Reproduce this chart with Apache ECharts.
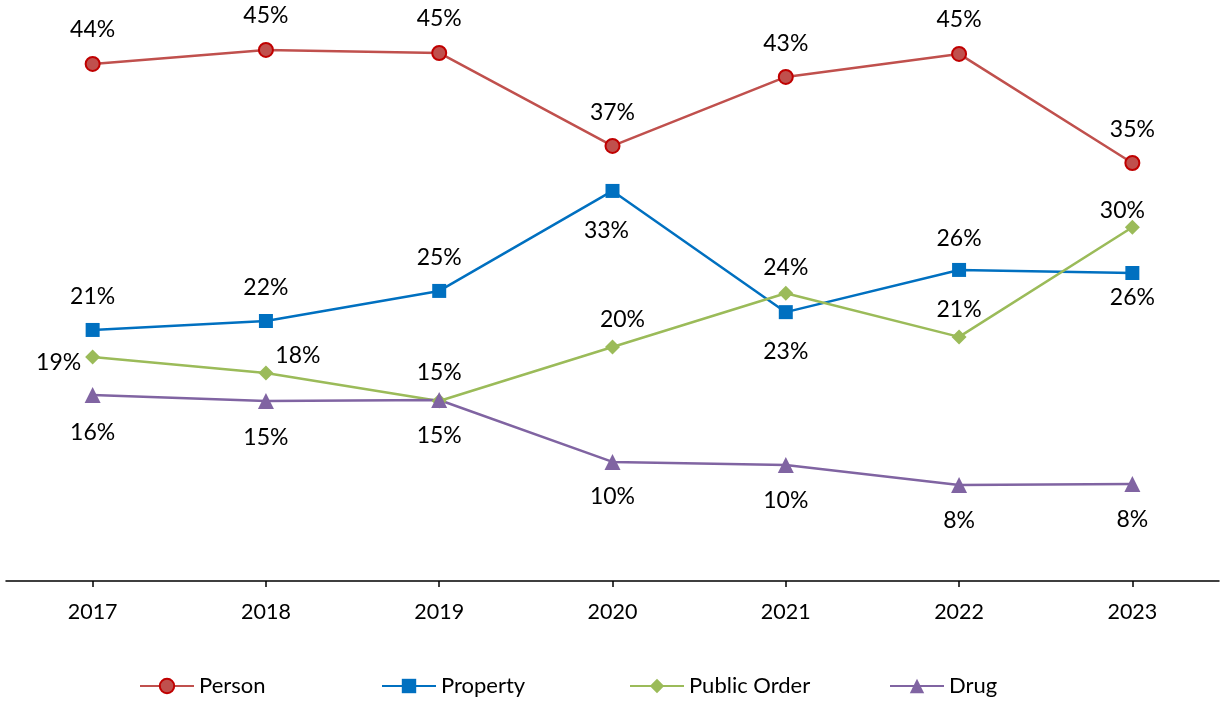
<!DOCTYPE html>
<html><head><meta charset="utf-8">
<script src="https://cdn.jsdelivr.net/npm/echarts@6/dist/echarts.min.js"></script>
<style>html,body{margin:0;padding:0;background:#fff}#c{width:1225px;height:708px}</style>
</head><body><div id="c"></div>
<script>
const categories = ['2017','2018','2019','2020','2021','2022','2023'];
const person = [43.85, 45.04, 44.78, 36.9, 42.75, 44.7, 35.45];
const property = [21.29, 22.05, 24.6, 33.08, 22.8, 26.38, 26.12];
const publicOrder = [19.0, 17.64, 15.27, 19.85, 24.4, 20.7, 30.0];
const drug = [15.78, 15.27, 15.35, 10.1, 9.84, 8.14, 8.23];

// label offsets (dx, dy) from point center, styling only
const offsets = {
  Person: [[0,-34],[0,-34],[0,-34],[0,-33],[0,-33],[0,-34],[0,-33]],
  Property: [[0,-33],[0,-33],[0,-33],[-6,40],[0,39],[0,-31],[0,25]],
  'Public Order': [[-34,6],[32,-17],[0,-28],[10,-27],[0,-26],[0,-27],[-10,-17]],
  Drug: [[0,38],[0,37],[0,36],[0,35],[0,36],[0,36],[0,36]]
};

const FONT = 'Lato';
function mk(name, values, color, symbol, size, borderColor) {
  return {
    name, type: 'line', data: values.map((v, i) => ({
      value: v,
      label: { offset: offsets[name][i] }
    })),
    symbol, symbolSize: size,
    lineStyle: { color, width: 2.5 },
    itemStyle: { color, borderColor: borderColor || color, borderWidth: borderColor ? 2 : 0 },
    label: {
      show: true, position: 'inside', color: '#000', fontFamily: FONT, fontSize: 23,
      formatter: p => Math.round(p.value) + '%'
    },
    z: 3
  };
}

const chart = echarts.init(document.getElementById('c'), null, { renderer: 'canvas' });
const legendBase = (name, left) => ({
  data: [name], left, top: 670, itemWidth: 54, itemHeight: 18, itemGap: 0,
  textStyle: { fontFamily: FONT, fontSize: 22, color: '#000' }
});
chart.setOption({
  animation: false,
  grid: { left: 6, right: 6, top: 15, bottom: 127, containLabel: false },
  xAxis: {
    type: 'category', data: categories, boundaryGap: true,
    axisLine: { lineStyle: { color: '#000', width: 1.5 } },
    axisTick: { show: true, alignWithLabel: true, length: 6, lineStyle: { color: '#000', width: 1.5 } },
    axisLabel: { fontFamily: FONT, fontSize: 21.5, color: '#000', margin: 20 }
  },
  yAxis: { type: 'value', min: 0, max: 48, show: false, splitLine: { show: false } },
  legend: [
    legendBase('Person', 134), legendBase('Property', 376),
    legendBase('Public Order', 624), legendBase('Drug', 884)
  ],
  series: [
    mk('Person', person, '#C0504D', 'circle', 14, '#C00000'),
    mk('Property', property, '#0070C0', 'rect', 14),
    mk('Public Order', publicOrder, '#9BBB59', 'diamond', 15),
    mk('Drug', drug, '#8064A2', 'triangle', 16)
  ]
});
</script></body></html>
